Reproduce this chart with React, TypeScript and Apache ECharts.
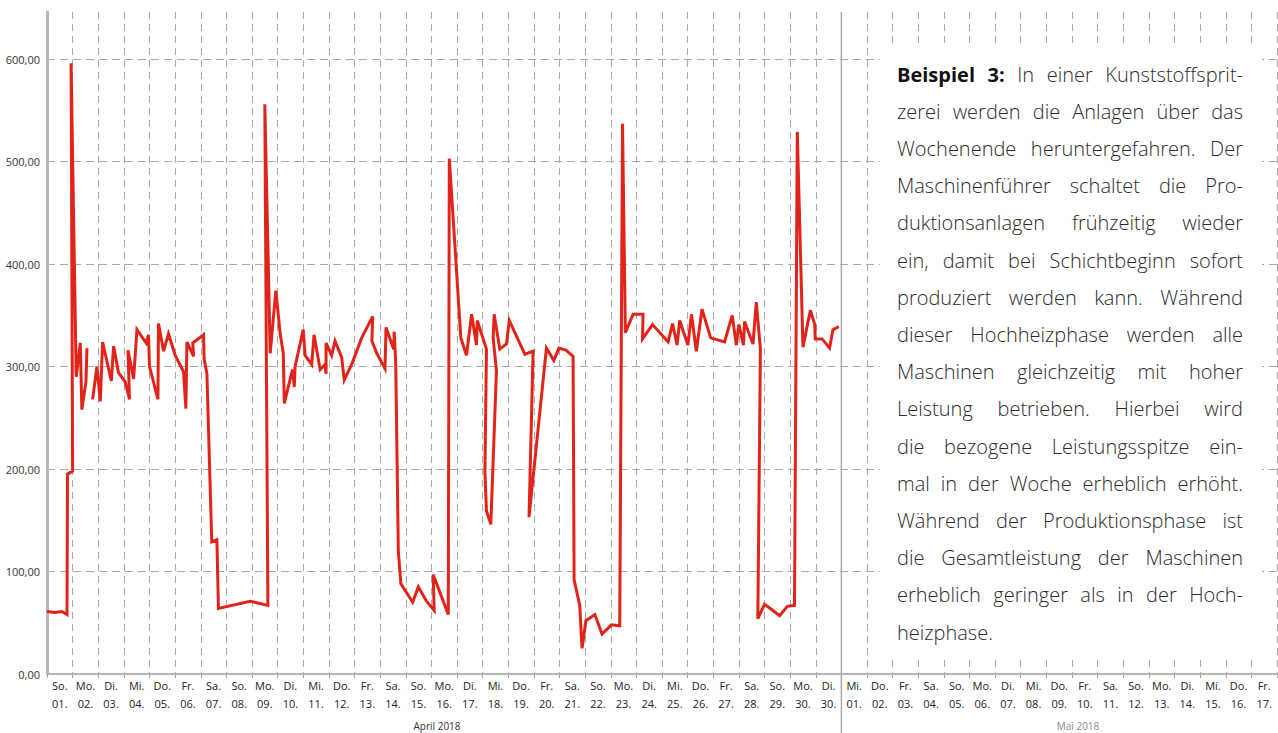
import React, { useEffect, useRef } from "react";
import * as echarts from "echarts";

// ---------- data ----------
const weekdays = [
  "So.", "Mo.", "Di.", "Mi.", "Do.", "Fr.", "Sa.", "So.", "Mo.", "Di.", "Mi.", "Do.", "Fr.", "Sa.", "So.",
  "Mo.", "Di.", "Mi.", "Do.", "Fr.", "Sa.", "So.", "Mo.", "Di.", "Mi.", "Do.", "Fr.", "Sa.", "So.", "Mo.", "Di.",
  "Mi.", "Do.", "Fr.", "Sa.", "So.", "Mo.", "Di.", "Mi.", "Do.", "Fr.", "Sa.", "So.", "Mo.", "Di.", "Mi.", "Do.", "Fr.",
];
const dates = [
  "01.", "02.", "03.", "04.", "05.", "06.", "07.", "08.", "09.", "10.", "11.", "12.", "13.", "14.", "15.",
  "16.", "17.", "18.", "19.", "20.", "21.", "22.", "23.", "24.", "25.", "26.", "27.", "28.", "29.", "30.", "30.",
  "01.", "02.", "03.", "04.", "05.", "06.", "07.", "08.", "09.", "10.", "11.", "12.", "13.", "14.", "15.", "16.", "17.",
];
const months = ["April 2018", "Mai 2018"];

// position along the time axis (in days from 01.04.) and measured value
const dayPos = [
  0.0, 0.32, 0.58, 0.78, 0.8, 1.0, 0.94, 1.14, 1.3, 1.36, 1.52, 1.56, 1.67,
  1.78, 1.95, 2.08, 2.17, 2.51, 2.6, 2.79, 3.05, 3.22, 3.16, 3.38, 3.51, 3.87, 3.96, 4.0, 4.33, 4.35, 4.55, 4.74,
  5.0, 5.33, 5.42, 5.46, 5.72, 5.69, 6.11, 6.13, 6.24, 6.43, 6.63, 6.69, 7.93, 8.62, 8.5, 8.71, 8.93, 9.1, 9.22,
  9.26, 9.58, 9.65, 9.68, 10.0, 10.07, 10.33, 10.42, 10.66, 10.85, 10.89, 10.89, 11.11, 11.24, 11.5, 11.6, 11.89,
  12.28, 12.71, 12.68, 12.87, 13.19, 13.23, 13.53, 13.55, 13.61, 13.71, 13.81, 14.27, 14.49, 14.81, 15.11, 15.07,
  15.66, 15.7, 16.15, 16.37, 16.57, 16.76, 16.79, 17.15, 17.09, 17.15, 17.32, 17.54, 17.41, 17.45, 17.67, 17.93,
  18.04, 18.65, 18.97, 18.81, 19.49, 19.78, 19.98, 20.25, 20.53, 20.57, 20.79, 20.88, 21.03, 21.38, 21.66, 22.03,
  22.35, 22.46, 22.57, 22.87, 23.26, 23.24, 23.63, 24.24, 24.41, 24.59, 24.69, 25.01, 25.15, 25.34, 25.56, 25.9,
  26.44, 26.74, 26.9, 27.0, 27.18, 27.22, 27.55, 27.68, 27.84, 27.74, 28.0, 28.33, 28.59, 28.89, 29.17, 29.28,
  29.5, 29.79, 29.96, 29.98, 30.25, 30.54, 30.67, 30.9,
];
const power: (number | null)[] = [
  61, 60, 61, 58, 195, 198, 596, 290, 323, 258, 285, 318, null,
  268, 300, 266, 324, 286, 320, 294, 285, 268, 316, 288, 336, 323, 331, 300, 268, 342, 315, 332,
  311, 295, 259, 324, 310, 323, 331, 308, 293, 129, 131, 64, 71, 67, 556, 313, 374, 332, 313,
  264, 297, 280, 300, 336, 311, 302, 331, 297, 302, 293, 323, 311, 325, 309, 287, 302,
  328, 349, 325, 313, 298, 338, 317, 334, 302, 120, 88, 70, 85, 71, 62, 97,
  58, 503, 328, 311, 351, 321, 345, 317, 197, 159, 146, 296, 328, 351, 317, 322,
  345, 312, 315, 153, 318, 306, 318, 316, 310, 92, 67, 25, 52, 58, 39, 48,
  47, 537, 333, 351, 351, 327, 341, 324, 342, 321, 345, 321, 351, 315, 356, 328,
  324, 350, 321, 341, 321, 344, 322, 363, 317, 54, 68, 62, 57, 66, 67, 529,
  319, 355, 341, 327, 327, 318, 336, 339,
];

const paragraph = [
  "Beispiel 3: In einer Kunststoffsprit-",
  "zerei werden die Anlagen über das",
  "Wochenende heruntergefahren. Der",
  "Maschinenführer schaltet die Pro-",
  "duktionsanlagen frühzeitig wieder",
  "ein, damit bei Schichtbeginn sofort",
  "produziert werden kann. Während",
  "dieser Hochheizphase werden alle",
  "Maschinen gleichzeitig mit hoher",
  "Leistung betrieben. Hierbei wird",
  "die bezogene Leistungsspitze ein-",
  "mal in der Woche erheblich erhöht.",
  "Während der Produktionsphase ist",
  "die Gesamtleistung der Maschinen",
  "erheblich geringer als in der Hoch-",
  "heizphase.",
];
const boldWords = 2; // "Beispiel 3:"

// ---------- layout ----------
const W = 1278;
const H = 733;
const GRID_LEFT = 47;
const GRID_RIGHT = 1;
const GRID_TOP = 12;
const GRID_BOTTOM = 59;
const FONT = "'Open Sans', 'Noto Sans', sans-serif";
const TEXT_LEFT = 897;
const TEXT_RIGHT = 1243;
const TEXT_TOP = 74;
const TEXT_LH = 37.2;

function buildParagraph(): any[] {
  const canvas = document.createElement("canvas");
  const ctx = canvas.getContext("2d")!;
  const width = TEXT_RIGHT - TEXT_LEFT;
  const measure = (s: string, size: number, weight: number | string) => {
    ctx.font = `${weight} ${size}px ${FONT}`;
    return ctx.measureText(s).width;
  };
  // choose font size so that no justified line overflows
  let size = 20;
  paragraph.forEach((line, i) => {
    if (i === paragraph.length - 1) return;
    const words = line.split(" ");
    let w = 0;
    words.forEach((wd, k) => {
      w += measure(wd, 20, i === 0 && k < boldWords ? 700 : 300);
    });
    w += measure(" ", 20, 300) * (words.length - 1);
    const s = (20 * width) / w;
    if (s < size) size = s;
  });
  const els: any[] = [];
  paragraph.forEach((line, i) => {
    const words = line.split(" ");
    const weights = words.map((_, k) => (i === 0 && k < boldWords ? 700 : 300));
    const ws = words.map((wd, k) => measure(wd, size, weights[k]));
    const total = ws.reduce((a, b) => a + b, 0);
    const last = i === paragraph.length - 1;
    const gap = last || words.length < 2 ? measure(" ", size, 300) : (width - total) / (words.length - 1);
    let x = TEXT_LEFT;
    words.forEach((wd, k) => {
      els.push({
        type: "text",
        x,
        y: TEXT_TOP + i * TEXT_LH,
        z: 12,
        style: {
          text: wd,
          fontSize: size,
          fontFamily: FONT,
          fontWeight: weights[k],
          fill: weights[k] === 700 ? "#111" : "#2b2b2b",
          textAlign: "left",
          textVerticalAlign: "middle",
        },
      });
      x += ws[k] + gap;
    });
  });
  return els;
}

export default function App() {
  const ref = useRef<HTMLDivElement>(null);
  useEffect(() => {
    document.body.style.margin = "0";
    if (!ref.current) return;
    const chart = echarts.init(ref.current, undefined, { renderer: "svg" });
    const cats = weekdays.map((w, i) => `${w}\n${dates[i]}`);
    const data = dayPos.map((d, i) => [d, power[i] === null ? "-" : power[i]]);
    const band = (W - GRID_LEFT - GRID_RIGHT) / cats.length;
    const sepX = GRID_LEFT + 31 * band;

    const option: any = {
      animation: false,
      backgroundColor: "#fff",
      grid: { left: GRID_LEFT, right: GRID_RIGHT, top: GRID_TOP, bottom: GRID_BOTTOM },
      xAxis: [
        {
          type: "category",
          data: cats,
          boundaryGap: true,
          axisLine: { lineStyle: { color: "#b5b5b5", width: 2 } },
          axisTick: { show: true, length: 4, lineStyle: { color: "#a8a8a8" } },
          axisLabel: {
            interval: 0,
            fontSize: 11,
            lineHeight: 18,
            margin: 2,
            color: "#222",
            fontFamily: FONT,
          },
          splitLine: { show: true, lineStyle: { type: [7, 5], color: "#a9a9a9", width: 1 } },
        },
        { type: "value", min: 0, max: 48, show: false, splitLine: { show: false } },
      ],
      yAxis: {
        type: "value",
        min: 0,
        max: 646,
        interval: 100,
        axisLine: { show: true, lineStyle: { color: "#b5b5b5", width: 3 } },
        axisTick: { show: false },
        axisLabel: {
          formatter: (v: number) => (v % 100 === 0 ? v.toFixed(2).replace(".", ",") : ""),
          showMaxLabel: false,
          fontSize: 11,
          color: "#333",
          margin: 7,
          fontFamily: FONT,
        },
        splitLine: { show: true, showMaxLine: false, lineStyle: { type: [8, 5], color: "#a9a9a9", width: 1 } },
      },
      series: [
        {
          type: "line",
          xAxisIndex: 1,
          data,
          showSymbol: false,
          connectNulls: false,
          lineStyle: { color: "#e2231a", width: 3, join: "miter" },
          z: 3,
        },
      ],
      graphic: [
        {
          type: "line",
          z: 5,
          shape: { x1: sepX, y1: GRID_TOP, x2: sepX, y2: H },
          style: { stroke: "#aaaaaa", lineWidth: 1.5 },
        },
        {
          type: "text",
          x: 437,
          y: 726,
          z: 5,
          style: { text: months[0], fontSize: 10, fontFamily: FONT, fill: "#333", textAlign: "center", textVerticalAlign: "middle" },
        },
        {
          type: "text",
          x: 1078,
          y: 726,
          z: 5,
          style: { text: months[1], fontSize: 10, fontFamily: FONT, fill: "#8a8a8a", textAlign: "center", textVerticalAlign: "middle" },
        },
        {
          type: "rect",
          z: 10,
          shape: { x: 880, y: 45, width: 382, height: 612 },
          style: { fill: "#ffffff" },
        },
        ...buildParagraph(),
      ],
    };
    chart.setOption(option);
    return () => chart.dispose();
  }, []);
  return <div ref={ref} style={{ width: W, height: H }} />;
}
